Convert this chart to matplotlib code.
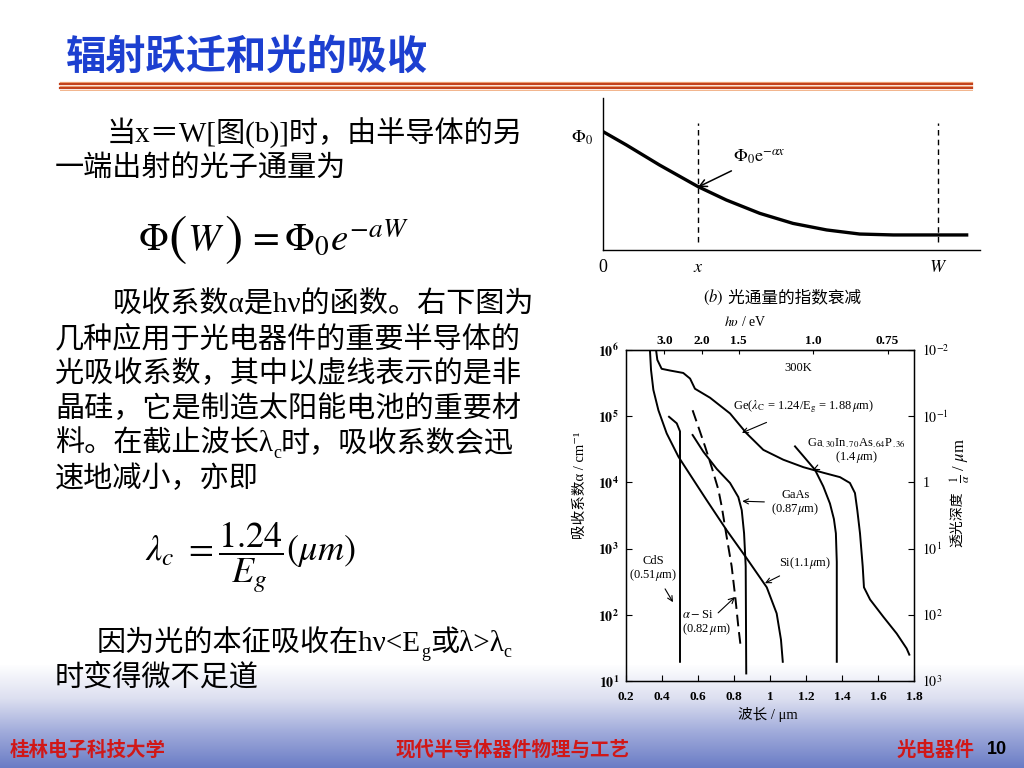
import numpy as np
import matplotlib
matplotlib.use('Agg')
import matplotlib.pyplot as plt
from matplotlib.lines import Line2D
from matplotlib.colors import LinearSegmentedColormap
from matplotlib.ticker import NullLocator

# ---------------- data ----------------
# upper sketch: photon flux vs depth (normalised axes units)
flux_x = [0.0, 0.062, 0.150, 0.252, 0.327, 0.416, 0.504, 0.593, 0.681, 0.770, 0.969]
flux_y = [0.779, 0.691, 0.559, 0.417, 0.329, 0.241, 0.175, 0.132, 0.105, 0.099, 0.099]
x_mark = 0.252
w_mark = 0.888

# lower chart: absorption coefficient (cm^-1) vs wavelength (um)
ge_wl = [0.367, 0.374, 0.398, 0.444, 0.518, 0.556, 0.583, 0.667, 0.778, 0.870, 0.963, 1.074,
         1.185, 1.296, 1.389, 1.444, 1.472, 1.485, 1.500, 1.515, 1.522, 1.556, 1.630, 1.704, 1.759, 1.774]
ge_a = [1.0e6, 7.1e5, 5.2e5, 4.9e5, 4.5e5, 3.7e5, 2.6e5, 1.9e5, 1.1e5, 5.5e4, 3.1e4, 2.2e4,
        1.7e4, 1.4e4, 1.2e4, 9.8e3, 6.9e3, 3.8e3, 1.7e3, 5.4e2, 2.6e2, 1.7e2, 93, 52, 31, 25]

gaas_p_wl = [1.139, 1.185, 1.250, 1.296, 1.333, 1.355, 1.366, 1.371, 1.371]
gaas_p_a = [3.5e4, 2.5e4, 1.55e4, 8.7e3, 4.8e3, 2.8e3, 1.7e3, 6.3e2, 19.5]

cds_wl = [0.439, 0.482, 0.500, 0.500]
cds_a = [9.8e4, 7.8e4, 5.9e4, 19.5]

si_wl = [0.333, 0.339, 0.352, 0.380, 0.426, 0.491, 0.574, 0.648, 0.759, 0.871, 0.982, 1.037, 1.061, 1.071]
si_a = [1.0e6, 5.0e5, 2.5e5, 1.23e5, 5.5e4, 2.45e4, 1.1e4, 5.4e3, 1.9e3, 710, 260, 105, 42, 19.5]

gaas_wl = [0.570, 0.630, 0.704, 0.778, 0.824, 0.843, 0.856, 0.865, 0.868]
gaas_a = [5.2e4, 2.9e4, 1.6e4, 9.8e3, 6.0e3, 3.8e3, 1.7e3, 540, 13]

asi_wl = [0.570, 0.602, 0.639, 0.676, 0.713, 0.732, 0.756, 0.787, 0.809, 0.824, 0.839]
asi_a = [1.23e5, 6.9e4, 3.5e4, 1.7e4, 7.8e3, 4.3e3, 1.7e3, 540, 166, 66, 30]

wl_ticks = [0.2, 0.4, 0.6, 0.8, 1.0, 1.2, 1.4, 1.6, 1.8]
wl_labels = ['0.2', '0.4', '0.6', '0.8', '1', '1.2', '1.4', '1.6', '1.8']
ev_ticks = [3.0, 2.0, 1.5, 1.0, 0.75]
ev_labels = ['3.0', '2.0', '1.5', '1.0', '0.75']
a_ticks = [1e1, 1e2, 1e3, 1e4, 1e5, 1e6]
a_labels = [r'$\mathbf{10^1}$', r'$\mathbf{10^2}$', r'$\mathbf{10^3}$', r'$\mathbf{10^4}$',
            r'$\mathbf{10^5}$', r'$\mathbf{10^6}$']
depth_labels = [r'$10^3$', r'$10^2$', r'$10^1$', '1', r'$10^{-1}$', r'$10^{-2}$']

# ---------------- styling ----------------
plt.rcParams['mathtext.fontset'] = 'stix'
SERIF_CJK = ['Liberation Serif', 'Noto Sans CJK SC', 'DejaVu Serif']
CJK = ['Noto Sans CJK SC', 'DejaVu Sans']
plt.rcParams['font.family'] = SERIF_CJK

W, H = 1024, 768
fig = plt.figure(figsize=(10.24, 7.68), dpi=100)
fig.patch.set_facecolor('white')


def fx(px):
    return px / W


def fy(py):
    return 1 - py / H


# footer gradient
bg = fig.add_axes([0, 0, 1, 1 - 665 / H])
bg.set_zorder(-5)
grad = np.linspace(0, 1, 256).reshape(-1, 1)
cmap = LinearSegmentedColormap.from_list('ft', ['#ffffff', '#dcdff0', '#9ea9da', '#6a7cc5'])
bg.imshow(grad, aspect='auto', cmap=cmap, extent=[0, 1, 0, 1], origin='upper')
bg.axis('off')

# title
fig.text(fx(66), fy(57), '辐射跃迁和光的吸收', family=CJK, fontsize=29, fontweight='bold',
         color='#1c3fd0', va='center', ha='left')
for yy, lw, c in [(81.5, 0.9, '#f2a77a'), (83.8, 1.6, '#c2411c'), (85.9, 0.9, '#f2a77a'),
                  (88.0, 1.6, '#c2411c'), (90.0, 0.7, '#f2b48c')]:
    fig.add_artist(Line2D([fx(60), fx(972)], [fy(yy), fy(yy)], lw=lw, color=c))

# footer
fig.text(fx(10), fy(750), '桂林电子科技大学', family=CJK, fontsize=14, fontweight='bold',
         color='#d01818', va='center', ha='left')
fig.text(fx(513), fy(750), '现代半导体器件物理与工艺', family=CJK, fontsize=14, fontweight='bold',
         color='#d01818', va='center', ha='center')
fig.text(fx(897), fy(750), '光电器件', family=CJK, fontsize=14, fontweight='bold',
         color='#d01818', va='center', ha='left')
fig.text(fx(987), fy(750), '10', family=['Liberation Sans', 'DejaVu Sans'], fontsize=13,
         fontweight='bold', color='black', va='center', ha='left')

# ---------------- left text ----------------
renderer = fig.canvas.get_renderer()
FS = 21


def seq(x_px, base_py, segs, weight='light'):
    x = x_px
    for s, size, dy in segs:
        t = fig.text(fx(x), fy(base_py + dy), s, fontsize=size, va='baseline', ha='left',
                     family=SERIF_CJK, color='black', fontweight=weight)
        bb = t.get_window_extent(renderer)
        x = bb.x1


def line(x_px, center_py, s):
    seq(x_px, center_py + 10, [(s, FS, 0)])


line(107, 133, '当x＝W[图(b)]时，由半导体的另')
line(55, 167, '一端出射的光子通量为')
seq(138, 250, [(r'$\Phi$', 28, 0), (r'$($', 40, 4), (r'$W$', 28, 0), (r'$)$', 40, 4),
               (r'$\,=\Phi_0e^{-aW}$', 28, 0)], weight='normal')

line(113, 302, '吸收系数α是hν的函数。右下图为')
line(55, 337, '几种应用于光电器件的重要半导体的')
line(55, 372, '光吸收系数，其中以虚线表示的是非')
line(55, 407, '晶硅，它是制造太阳能电池的重要材')
seq(55, 452, [('料。在截止波长λ', FS, 0), ('c', 13, 6), ('时，吸收系数会迅', FS, 0)])
line(55, 477, '速地减小，亦即')
fig.text(fx(145), fy(557), r'$\lambda_c\ =\dfrac{1.24}{E_g}(\mu m)$', fontsize=26, va='center', ha='left')
seq(97, 651, [('因为光的本征吸收在hν<E', FS, 0), ('g', 13, 6), ('或λ>λ', FS, 0), ('c', 13, 6)])
line(55, 676, '时变得微不足道')

# ---------------- upper sketch ----------------
ax1 = fig.add_axes([fx(603), fy(250), (980 - 603) / W, (250 - 98) / H])
ax1.set_facecolor('none')
ax1.plot(flux_x, flux_y, color='black', lw=2.4, solid_capstyle='butt')
ax1.plot([x_mark, x_mark], [0.053, 0.836], color='black', lw=1.0, ls=(0, (4, 3)))
ax1.plot([w_mark, w_mark], [0.053, 0.836], color='black', lw=1.0, ls=(0, (4, 3)))
ax1.set_xlim(0, 1)
ax1.set_ylim(0, 1)
for s in ['top', 'right']:
    ax1.spines[s].set_visible(False)
ax1.spines['left'].set_linewidth(1.0)
ax1.spines['bottom'].set_linewidth(1.0)
ax1.set_xticks([])
ax1.set_yticks([])
ax1.text(-0.055, 0.737, r'$\Phi_0$', fontsize=13, ha='center', va='center', transform=ax1.transAxes)
ax1.annotate(r'$\Phi_0\mathrm{e}^{-\alpha x}$', xy=(x_mark, 0.414), xytext=(0.415, 0.61),
             fontsize=13, ha='center', va='center',
             arrowprops=dict(arrowstyle='->', color='black', lw=1.1, shrinkA=2, shrinkB=0))
ax1.text(0.0, -0.118, '0', fontsize=13, ha='center', va='center', transform=ax1.transAxes)
ax1.text(x_mark, -0.118, r'$x$', fontsize=13, ha='center', va='center')
ax1.text(w_mark, -0.118, r'$W$', fontsize=13, ha='center', va='center')
seq(703, 302, [(r'$(b)$', 12, 0), (' 光通量的指数衰减', 12, 0)], weight='normal')

# ---------------- lower chart ----------------
ax = fig.add_axes([fx(626), fy(681), 288 / W, 331 / H])
ax.set_facecolor('none')
lw = 1.4
ax.plot(ge_wl, ge_a, color='black', lw=lw)
ax.plot(gaas_p_wl, gaas_p_a, color='black', lw=lw)
ax.plot(cds_wl, cds_a, color='black', lw=lw)
ax.plot(si_wl, si_a, color='black', lw=lw)
ax.plot(gaas_wl, gaas_a, color='black', lw=lw)
ax.plot(asi_wl, asi_a, color='black', lw=lw, ls=(0, (6, 3)))
ax.set_yscale('log')
ax.set_xlim(0.2, 1.8)
ax.set_ylim(1e1, 1e6)
ax.yaxis.set_minor_locator(NullLocator())
ax.set_xticks(wl_ticks)
ax.set_xticklabels(wl_labels, fontsize=9.5, fontweight='bold')
ax.set_yticks(a_ticks)
ax.set_yticklabels(a_labels, fontsize=10)
ax.tick_params(direction='in', length=4, width=0.8)
ax.tick_params(axis='x', pad=7)
ax.tick_params(axis='y', pad=5)
for s in ax.spines.values():
    s.set_linewidth(1.0)

axr = ax.twinx()
axr.set_yscale('log')
axr.set_ylim(1e1, 1e6)
axr.yaxis.set_minor_locator(NullLocator())
axr.set_yticks(a_ticks)
axr.set_yticklabels(depth_labels, fontsize=10)
axr.tick_params(direction='in', length=4, width=0.8, pad=6)

top = ax.secondary_xaxis('top', functions=(lambda v: 1.24 / v, lambda v: 1.24 / v))
top.set_xticks(ev_ticks)
top.set_xticklabels(ev_labels, fontsize=9.5, fontweight='bold')
top.tick_params(direction='in', length=3, width=0.8, pad=2)
top.xaxis.set_minor_locator(NullLocator())

fig.text(fx(745), fy(322), r'$h\upsilon$ / eV', fontsize=10, ha='center', va='center')
fig.text(fx(768), fy(715), '波长 / μm', fontsize=10.5, ha='center', va='center', family=SERIF_CJK)
fig.text(fx(580), fy(485), '吸收系数α / cm⁻¹', fontsize=10.5, ha='center', va='center',
         rotation=90, family=SERIF_CJK)
fig.text(fx(958), fy(519), '透光深度', fontsize=10, ha='center', va='center', rotation=90,
         family=SERIF_CJK)
fig.text(fx(960), fy(461), r'$\frac{1}{\alpha}$ / $\mu$m', fontsize=12, ha='center', va='center',
         rotation=90)

FSA = 9
ax.text(1.156, 5.4e5, '300K', fontsize=FSA, ha='center', va='center')
ax.annotate(r'Ge($\lambda_{\rm C}$ = 1.24/E$_{\rm g}$ = 1.88$\,\mu$m)', xy=(0.844, 5.6e4),
            xytext=(1.183, 1.38e5), fontsize=FSA, ha='center', va='center',
            arrowprops=dict(arrowstyle='->', color='black', lw=0.8, shrinkA=8, shrinkB=0))
ax.annotate(r'Ga$_{.30}$In$_{.70}$As$_{.64}$P$_{.36}$' + '\n' + r'(1.4$\,\mu$m)', xy=(1.239, 1.55e4),
            xytext=(1.48, 3.0e4), fontsize=FSA, ha='center', va='center', linespacing=0.9,
            arrowprops=dict(arrowstyle='->', color='black', lw=0.8, shrinkA=2, shrinkB=0))
ax.annotate('GaAs\n' + r'(0.87$\mu$m)', xy=(0.846, 5.2e3), xytext=(1.14, 4.9e3),
            fontsize=FSA, ha='center', va='center', linespacing=1.0,
            arrowprops=dict(arrowstyle='->', color='black', lw=0.8, shrinkA=3, shrinkB=0))
ax.annotate('CdS\n' + r'(0.51$\mu$m)', xy=(0.461, 155), xytext=(0.35, 500),
            fontsize=FSA, ha='center', va='center', linespacing=1.0,
            arrowprops=dict(arrowstyle='->', color='black', lw=0.8, shrinkA=3, shrinkB=0))
ax.annotate(r'Si(1.1$\mu$m)', xy=(0.972, 300), xytext=(1.194, 600),
            fontsize=FSA, ha='center', va='center',
            arrowprops=dict(arrowstyle='->', color='black', lw=0.8, shrinkA=3, shrinkB=0))
ax.text(0.511, 75, r'$\alpha-$Si' + '\n' + r'(0.82$\,\mu$m)', fontsize=FSA, ha='left', va='center',
        linespacing=1.05)
ax.annotate('', xy=(0.806, 186), xytext=(0.712, 107),
            arrowprops=dict(arrowstyle='->', color='black', lw=0.8, shrinkA=0, shrinkB=0))

fig.savefig('out.png', dpi=100)
